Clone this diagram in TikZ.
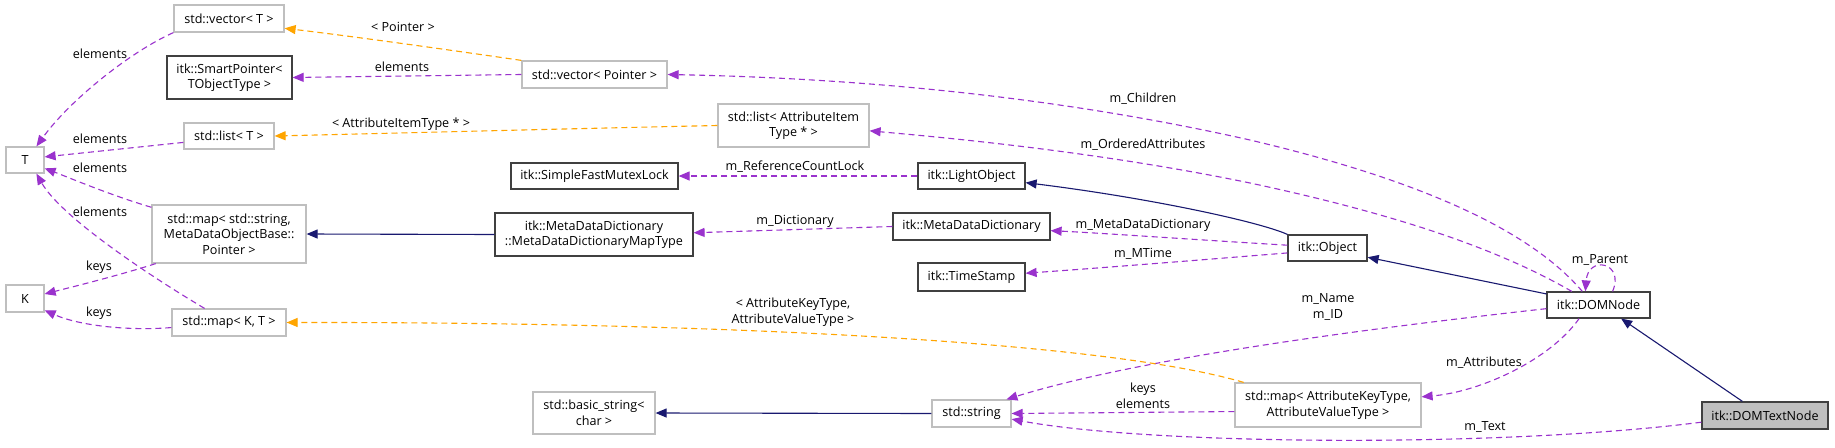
\documentclass[tikz,border=0pt]{standalone}
\usepackage{fontspec}
\setmainfont{Open Sans}
\usetikzlibrary{arrows.meta}
\definecolor{purp}{HTML}{9A32CD}
\definecolor{orng}{HTML}{FFA500}
\definecolor{navyb}{HTML}{191970}
\definecolor{gborder}{HTML}{BFBFBF}
\definecolor{bborder}{HTML}{404040}
\definecolor{hfill}{HTML}{BFBFBF}
\begin{document}
\begin{tikzpicture}[x=1pt,y=-1pt,
  every node/.style={font=\fontsize{12.6}{15.5}\selectfont, inner sep=0pt},
  box/.style={draw, line width=1.2pt, align=center, rectangle},
  gbox/.style={box, draw=gborder, fill=white},
  bbox/.style={box, draw=bborder, fill=white},
  hbox/.style={box, draw=bborder, fill=hfill},
  lbl/.style={align=center, text=black},
  tip/.style={-{Triangle[length=11pt,width=9pt]}},
  dep/.style={draw=purp, line width=1.1pt, dash pattern=on 6pt off 4pt, tip},
  tmpl/.style={draw=orng, line width=1.1pt, dash pattern=on 6pt off 4pt, tip},
  inh/.style={draw=navyb, line width=1.1pt, tip}
]
\useasboundingbox[fill=white] (0,0) rectangle (1835,447);

% nodes
\node[gbox, minimum width=110, minimum height=27] (vecT) at (229,18.5) {std::vector< T >};
\node[bbox, minimum width=125, minimum height=43] (smartp) at (229.5,77.5) {itk::SmartPointer<\\TObjectType >};
\node[gbox, minimum width=90, minimum height=26] (listT) at (229,136) {std::list< T >};
\node[gbox, minimum width=38, minimum height=26] (T) at (25,160) {T};
\node[gbox, minimum width=154, minimum height=58] (mapS) at (229,234) {std::map< std::string,\\MetaDataObjectBase::\\Pointer >};
\node[gbox, minimum width=38, minimum height=27] (K) at (25,298.5) {K};
\node[gbox, minimum width=114, minimum height=27] (mapKT) at (229,322.5) {std::map< K, T >};
\node[gbox, minimum width=145, minimum height=27] (vecP) at (594.5,74.5) {std::vector< Pointer >};
\node[gbox, minimum width=151, minimum height=43] (listA) at (793.5,125.5) {std::list< AttributeItem\\Type * >};
\node[bbox, minimum width=167, minimum height=26] (mutex) at (594.5,176) {itk::SimpleFastMutexLock};
\node[bbox, minimum width=198, minimum height=43] (mapType) at (594,234.5) {itk::MetaDataDictionary\\::MetaDataDictionaryMapType};
\node[gbox, minimum width=122, minimum height=42] (bstr) at (594,413) {std::basic\_string<\\char >};
\node[bbox, minimum width=107, minimum height=26] (light) at (971.5,176) {itk::LightObject};
\node[bbox, minimum width=157, minimum height=27] (mdd) at (971.5,226.5) {itk::MetaDataDictionary};
\node[bbox, minimum width=107, minimum height=28] (tstamp) at (971.5,277) {itk::TimeStamp};
\node[bbox, minimum width=79, minimum height=26] (object) at (1327.5,248) {itk::Object};
\node[gbox, minimum width=79, minimum height=27] (str) at (971.5,413.5) {std::string};
\node[gbox, minimum width=186, minimum height=44] (mapA) at (1328,405) {std::map< AttributeKeyType,\\AttributeValueType >};
\node[bbox, minimum width=103, minimum height=26] (dom) at (1598.5,305) {itk::DOMNode};
\node[hbox, minimum width=126, minimum height=27] (domtext) at (1765,415.5) {itk::DOMTextNode};

% edges
\draw[dep] (vecT.south west) .. controls (130,52) and (70,100) .. (T.50);
\draw[dep] (listT.188) -- (T.9);
\draw[dep] (mapS.161) .. controls (110,195) and (70,178) .. (T.-23);
\draw[dep] (mapKT.150) .. controls (140,270) and (60,215) .. (T.-50);
\draw[dep] (mapS.202) .. controls (120,275) and (80,285) .. (K.13);
\draw[dep] (mapKT.185) .. controls (130,331) and (80,326) .. (K.-31);

\draw[tmpl] (vecP.north west) .. controls (450,50) and (350,36) .. (vecT.-10);
\draw[dep] (vecP.west) -- (smartp.east);
\draw[tmpl] (listA.west) .. controls (600,128) and (400,133) .. (listT.east);

\draw[dep] (dom.140) .. controls (1530,230) and (1420,180) .. (1250,140)
  .. controls (1050,95) and (850,78) .. (vecP.east);
\draw[dep] (dom.153) .. controls (1500,250) and (1400,215) .. (1250,183)
  .. controls (1100,152) and (950,138) .. (listA.-4);

\draw[dep] (light.west) -- (mutex.east);
\draw[inh] (object.north west) .. controls (1260,222) and (1150,198) .. (light.-7);
\draw[inh] (dom.168) -- (object.-13);
\draw[dep] (object.176) .. controls (1200,240) and (1100,233) .. (mdd.-3);
\draw[dep] (object.187) .. controls (1200,260) and (1100,268) .. (tstamp.4);
\draw[dep] (mdd.west) -- (mapType.1);
\draw[inh] (mapType.west) -- (mapS.east);

\draw[dep] (dom.44) .. controls (1625,262) and (1588,255) .. (dom.134);
\draw[dep] (dom.184) .. controls (1400,325) and (1150,355) .. (str.22);
\draw[dep] (dom.215) .. controls (1550,360) and (1480,392) .. (mapA.5);
\draw[inh] (domtext.148) -- (dom.-31);
\draw[dep] (domtext.186) .. controls (1500,448) and (1150,445) .. (str.-8);
\draw[dep] (mapA.184) -- (str.east);
\draw[tmpl] (mapA.165) .. controls (1100,340) and (700,322) .. (mapKT.east);
\draw[inh] (str.west) -- (bstr.east);

% labels
\node[lbl] (l1) at (100,54) {elements};
\node[lbl] (l2) at (100,139) {elements};
\node[lbl] (l3) at (100,168) {elements};
\node[lbl] (l4) at (100,212) {elements};
\node[lbl] (l5) at (99,267) {keys};
\node[lbl] (l6) at (99,313) {keys};
\node[lbl] (l7) at (403,27) {< Pointer >};
\node[lbl] (l8) at (402,67) {elements};
\node[lbl] (l9) at (401,124) {< AttributeItemType * >};
\node[lbl] (l10) at (1143,99) {m\_Children};
\node[lbl] (l11) at (1143,145) {m\_OrderedAttributes};
\node[lbl] (l12) at (795,167) {m\_ReferenceCountLock};
\node[lbl] (l13) at (1143,225) {m\_MetaDataDictionary};
\node[lbl] (l14) at (1143,254) {m\_MTime};
\node[lbl] (l15) at (795,221) {m\_Dictionary};
\node[lbl] (l16) at (1600,260) {m\_Parent};
\node[lbl] (l17) at (1328,307) {m\_Name\\m\_ID};
\node[lbl] (l18) at (1484,363) {m\_Attributes};
\node[lbl] (l19) at (1485,427) {m\_Text};
\node[lbl] (l20) at (1143,396) {keys\\elements};
\node[lbl] (l21) at (793,312) {< AttributeKeyType,\\AttributeValueType >};
\end{tikzpicture}
\end{document}
